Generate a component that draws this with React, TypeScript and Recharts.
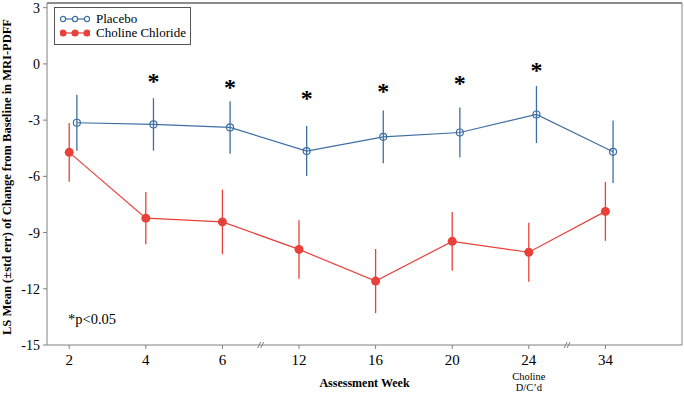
import React from 'react'
import { ComposedChart, Line, ErrorBar, Scatter, XAxis, YAxis, Legend, ReferenceLine, ReferenceDot } from 'recharts'

const weeks = ['2', '4', '6', '12', '16', '20', '24', '34']
const weekNotes = ['', '', '', '', '', '', 'Choline|D/C\u2019d', '']
const placeboMean = [-3.14, -3.23, -3.39, -4.65, -3.89, -3.66, -2.7, -4.69]
const placeboErr = [1.5, 1.4, 1.4, 1.33, 1.41, 1.33, 1.52, 1.67]
const cholineMean = [-4.72, -8.23, -8.43, -9.9, -11.59, -9.47, -10.05, -7.87]
const cholineErr = [1.57, 1.39, 1.72, 1.56, 1.71, 1.57, 1.57, 1.57]
// where the significance stars sit (y value), null = no star
const starLevels = [null, -0.68, -1.0, -1.59, -1.22, -0.79, -0.1, null]
const yTicks = [-15, -12, -9, -6, -3, 0, 3]
const breaks = [2.5, 6.5]

const BLUE = '#3d6fa3'
const RED = '#e8413a'
const AXIS = '#808080'
const FONT = '"Liberation Serif", "Times New Roman", serif'
const DODGE = 0.1

const placeboData = weeks.map((w, i) => ({ x: i + DODGE, y: placeboMean[i], err: placeboErr[i] }))
const cholineData = weeks.map((w, i) => ({ x: i, y: cholineMean[i], err: cholineErr[i] }))
const starData = starLevels
    .map((s, i) => ({ x: i + DODGE, y: s }))
    .filter(d => d.y !== null)

const WeekTick = (props: any) => {
    const { x, y, payload } = props
    const i = payload.value
    const note = weekNotes[i]
    return (
        <g>
            <text x={x} y={y + 14} textAnchor='middle' fontFamily={FONT} fontSize={15} fill='#000'>{weeks[i]}</text>
            {note && note.split('|').map((t, k) => (
                <text key={k} x={x} y={y + 29 + k * 11} textAnchor='middle' fontFamily={FONT} fontSize={10.5} fill='#000'>{t}</text>
            ))}
        </g>
    )
}

const Star = (props: any) => (
    <text x={props.cx} y={props.cy + 12} textAnchor='middle' fontFamily={FONT} fontSize={24} fontWeight='bold' fill='#000'>*</text>
)

const BreakMark = (props: any) => (
    <g stroke={AXIS} strokeWidth={1}>
        <line x1={props.cx - 3} y1={props.cy + 3} x2={props.cx} y2={props.cy - 3} />
        <line x1={props.cx} y1={props.cy + 3} x2={props.cx + 3} y2={props.cy - 3} />
    </g>
)

const LegendIcon = ({ color, filled }: { color: string, filled: boolean }) => (
    <svg width={30} height={10} style={{ marginRight: 6 }}>
        <line x1={2} y1={5} x2={28} y2={5} stroke={color} strokeWidth={1.2} />
        {[3, 15, 27].map(cx => (
            <circle key={cx} cx={cx} cy={5} r={filled ? 3 : 2.6} fill={filled ? color : '#fff'} stroke={color} strokeWidth={1.2} />
        ))}
    </svg>
)

const LegendBox = () => (
    <div style={{ border: '1px solid #555', padding: '4px 4px 4px 5px', fontFamily: FONT, fontSize: 13, lineHeight: '14px', background: '#fff' }}>
        <div style={{ display: 'flex', alignItems: 'center' }}><LegendIcon color={BLUE} filled={false} />Placebo</div>
        <div style={{ display: 'flex', alignItems: 'center' }}><LegendIcon color={RED} filled={true} />Choline Chloride</div>
    </div>
)

const YTitle = (props: any) => (
    <text transform='translate(11,177) rotate(-90)' textAnchor='middle' fontFamily={FONT} fontSize={12.5} fontWeight='bold' fill='#000'>
        LS Mean (±std err) of Change from Baseline in MRI-PDFF
    </text>
)

export default function App() {
    return (
        <div style={{ position: 'absolute', left: 0, top: 0 }}>
            <ComposedChart width={684} height={394} margin={{ top: 3, right: 2, left: 0, bottom: 0 }}>
                <XAxis
                    type='number'
                    dataKey='x'
                    domain={[-0.29, 8]}
                    ticks={[0, 1, 2, 3, 4, 5, 6, 7]}
                    allowDataOverflow
                    height={49}
                    stroke={AXIS}
                    tickSize={4}
                    tickMargin={2}
                    tick={<WeekTick />}
                    label={{ value: 'Assessment Week', position: 'insideBottom', offset: 7, fontFamily: FONT, fontSize: 12, fontWeight: 'bold', fill: '#000' }}
                />
                <YAxis
                    type='number'
                    domain={[-15, 3.25]}
                    ticks={yTicks}
                    allowDataOverflow
                    width={47}
                    stroke={AXIS}
                    tickSize={4}
                    tickMargin={3}
                    tick={{ fontFamily: FONT, fontSize: 14, fill: '#000' }}
                    label={YTitle}
                />
                <ReferenceLine y={3.25} stroke='#666' strokeWidth={1.5} />
                <ReferenceLine x={8} stroke='#888' strokeWidth={1} />
                {breaks.map(b => (
                    <ReferenceDot key={b} x={b} y={-15} ifOverflow='visible' shape={<BreakMark />} />
                ))}
                <Legend
                    layout='horizontal'
                    align='center'
                    verticalAlign='middle'
                    wrapperStyle={{ left: 54, top: 7, width: 'auto' }}
                    content={<LegendBox />}
                />
                <Line
                    data={placeboData}
                    dataKey='y'
                    name='Placebo'
                    stroke={BLUE}
                    strokeWidth={1.2}
                    dot={{ r: 3.5, fill: 'none', stroke: BLUE, strokeWidth: 1.2 }}
                    isAnimationActive={false}
                >
                    <ErrorBar dataKey='err' direction='y' width={0} stroke={BLUE} strokeWidth={1.3} isAnimationActive={false} />
                </Line>
                <Line
                    data={cholineData}
                    dataKey='y'
                    name='Choline Chloride'
                    stroke={RED}
                    strokeWidth={1.2}
                    dot={{ r: 4.5, fill: RED, stroke: RED, strokeWidth: 0 }}
                    isAnimationActive={false}
                >
                    <ErrorBar dataKey='err' direction='y' width={0} stroke={RED} strokeWidth={1.3} isAnimationActive={false} />
                </Line>
                <Scatter data={starData} dataKey='y' shape={<Star />} isAnimationActive={false} legendType='none' />
            </ComposedChart>
            <div style={{ position: 'absolute', left: 68, top: 311, fontFamily: FONT, fontSize: 14.5 }}>*p&lt;0.05</div>
        </div>
    )
}
